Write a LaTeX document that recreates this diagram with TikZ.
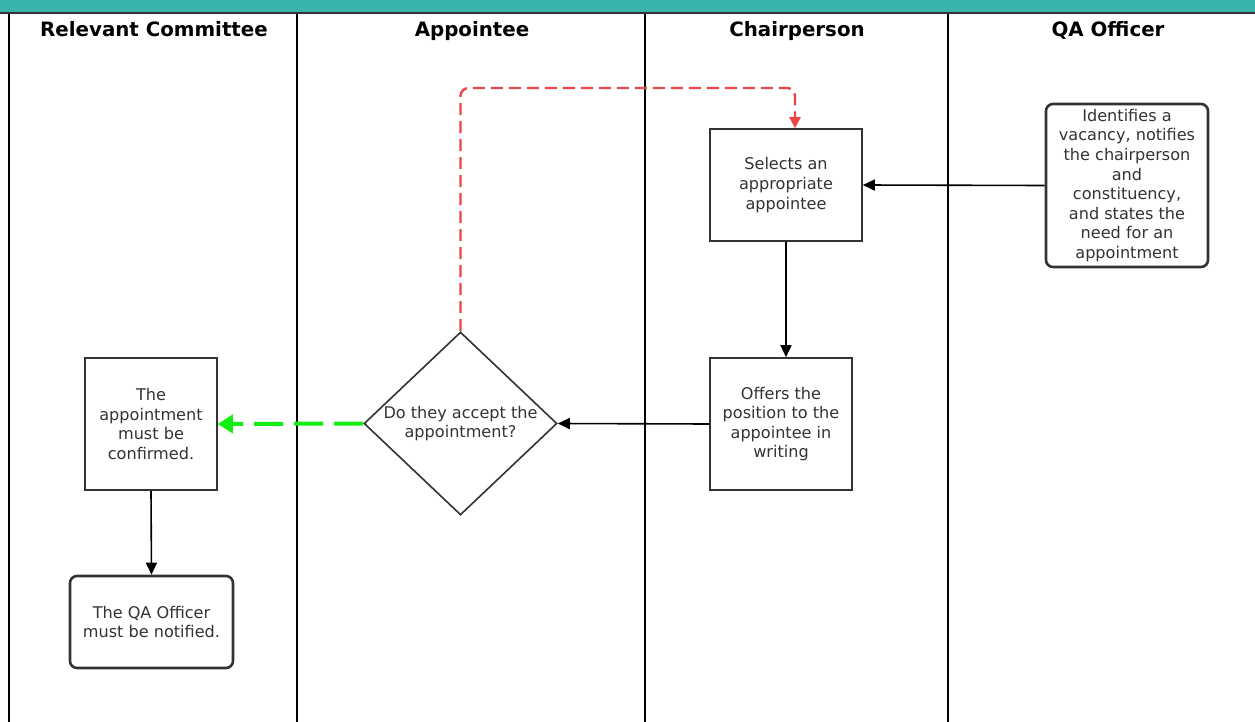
\documentclass[tikz,border=0pt]{standalone}
\usepackage{fontspec}
\setmainfont{DejaVu Sans}
\usetikzlibrary{shapes.geometric,arrows.meta}

\definecolor{headerTeal}{HTML}{38B3AA}
\definecolor{boxBorder}{HTML}{333333}
\definecolor{textGrey}{HTML}{333333}
\definecolor{loopRed}{HTML}{EB4545}
\definecolor{yesGreen}{HTML}{11EE11}

\tikzset{
    laneline/.style={black, line width=2.4pt},
    lanetitle/.style={font=\fontsize{19.8}{22}\selectfont\bfseries, anchor=base},
    stepbox/.style={draw=boxBorder, line width=1.6pt, fill=white, inner sep=0pt,
        align=center, text=textGrey, font=\fontsize{16.1}{19.6}\selectfont},
    endbox/.style={stepbox, rounded corners=7pt, line width=2.6pt},
    decision/.style={stepbox, diamond, aspect=1.055},
    flow/.style={black, line width=1.6pt, -{Triangle[length=12pt, width=11pt]}},
    loopflow/.style={loopRed, line width=2.4pt, dash pattern=on 12pt off 6pt,
        rounded corners=8pt, -{Triangle[length=11pt, width=11pt]}},
    yesflow/.style={yesGreen, line width=4pt, dash pattern=on 29pt off 11pt,
        -{Triangle[length=15pt, width=18pt]}},
}

\begin{document}
\begin{tikzpicture}[x=1pt, y=-1pt]
    \useasboundingbox (0,0) rectangle (1255,722);

    % Draw header bar
    \fill[headerTeal] (0,0) rectangle (1255,12.5);
    \draw[boxBorder, line width=2pt] (0,13) -- (1255,13);

    % Draw swim lanes
    \foreach \laneX in {9, 297, 645, 948}
        \draw[laneline] (\laneX,14) -- (\laneX,722);

    \node[lanetitle] (titleCommittee) at (154,37) {Relevant Committee};
    \node[lanetitle] (titleAppointee) at (472,37) {Appointee};
    \node[lanetitle] (titleChair) at (797,37) {Chairperson};
    \node[lanetitle] (titleQA) at (1108,37) {QA Officer};

    % Process steps
    \node[endbox, minimum width=162pt, minimum height=163pt] (identify) at (1127,185.5)
        {Identifies a\\vacancy, notifies\\the chairperson\\and\\constituency,\\and states the\\need for an\\appointment};
    \node[stepbox, minimum width=152pt, minimum height=112pt] (select) at (786,185)
        {Selects an\\appropriate\\appointee};
    \node[stepbox, minimum width=142pt, minimum height=132pt] (offer) at (781,424)
        {Offers the\\position to the\\appointee in\\writing};
    \node[decision, minimum width=193pt, minimum height=183pt] (accept) at (460.5,423.5)
        {Do they accept the\\appointment?};
    \node[stepbox, minimum width=132pt, minimum height=132pt] (confirm) at (151,424)
        {The\\appointment\\must be\\confirmed.};
    \node[endbox, minimum width=163pt, minimum height=92pt] (notify) at (151.5,622)
        {The QA Officer\\must be notified.};

    \coordinate (loopTop) at (620,88);

    % Connectors
    \draw[flow] (identify.west) -- (select.east);
    \draw[flow] (select.south) -- (select.south |- offer.north);
    \draw[flow] (offer.west) -- (accept.east);
    \draw[yesflow] (accept.west) -- (confirm.east);
    \draw[flow] (confirm.south) -- (notify.north);
    \draw[loopflow] (accept.north) |- (loopTop) -| ([xshift=9pt]select.north);

\end{tikzpicture}
\end{document}
